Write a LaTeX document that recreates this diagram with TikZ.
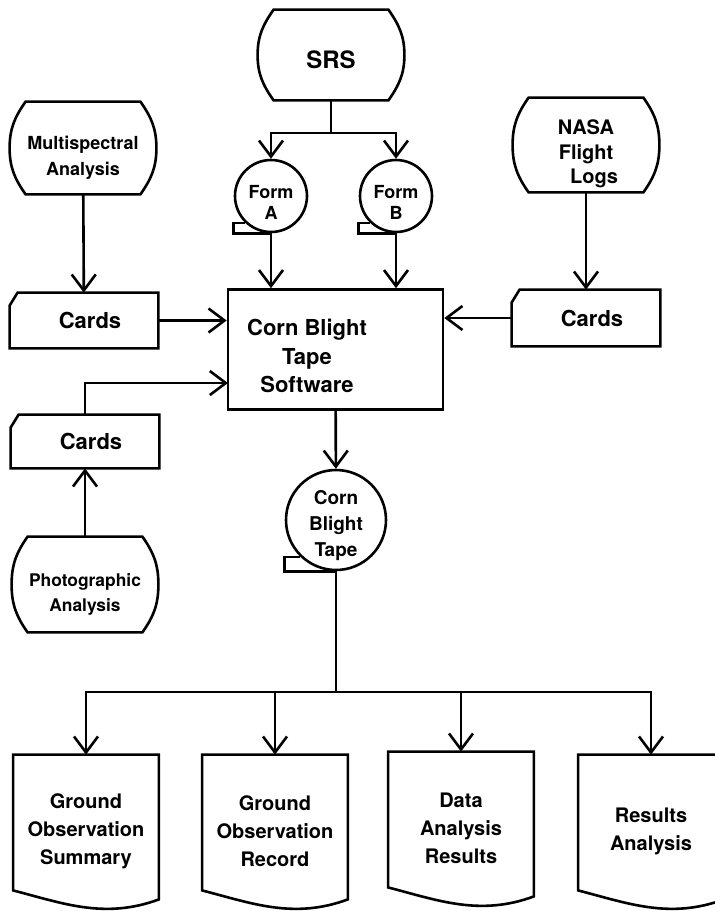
\documentclass[tikz,border=0pt]{standalone}
\usepackage{fontspec}
\setmainfont{TeX Gyre Heros}
\usetikzlibrary{arrows.meta}

\tikzset{
    shapeLine/.style={line width=1.3pt},
    flow/.style={line width=1.3pt, -{Straight Barb[length=8pt,width=12pt]}},
    storeNode/.style={minimum width=73pt, inner sep=0pt, align=center, execute at begin node={\rule{0pt}{#1}}},
    storeNode/.default=0pt,
    cardNode/.style={minimum width=74pt, minimum height=27.5pt, inner sep=0pt, font=\fontsize{11}{13}\selectfont\bfseries, execute at begin node={\hspace*{6pt}}},
    tapeNode/.style={circle, draw, line width=1.3pt, inner sep=0pt, align=center, execute at begin node={\rule{0pt}{#1}}},
    docNode/.style={minimum width=72.5pt, minimum height=76pt, inner sep=0pt, align=center, font=\fontsize{10}{14}\selectfont\bfseries}
}

\begin{document}
\begin{tikzpicture}[x=0.5pt, y=0.5pt]
\useasboundingbox (0,0) rectangle (715,-911);

\node[storeNode=13.5pt, minimum height=45pt, font=\fontsize{12}{14}\selectfont\bfseries] (srs) at (331,-55) {SRS};
\node[storeNode=29pt, minimum height=46pt, font=\fontsize{9}{13}\selectfont\bfseries] (multi) at (83,-148) {Multispectral\\Analysis};
\node[storeNode=41pt, minimum height=47pt, font=\fontsize{10}{12.3}\selectfont\bfseries] (nasa) at (586,-145) {NASA\\Flight\\\hspace*{8pt}Logs};
\node[storeNode=29pt, minimum height=47.5pt, font=\fontsize{8.7}{12.5}\selectfont\bfseries] (photo) at (85,-584.5) {Photographic\\Analysis};

\node[tapeNode=23pt, minimum size=36pt, font=\fontsize{9}{10.5}\selectfont\bfseries] (formA) at (271,-196) {Form\\A};
\node[tapeNode=23pt, minimum size=36pt, font=\fontsize{9}{10.5}\selectfont\bfseries] (formB) at (396,-196) {Form\\B};
\node[tapeNode=39pt, minimum size=50pt, font=\fontsize{9.5}{13}\selectfont\bfseries] (tape) at (336,-520) {Corn\\Blight\\Tape};

\node[draw, line width=1.3pt, minimum width=107.5pt, minimum height=60pt] (soft) at (335.5,-349.5) {};
\node[align=center, font=\fontsize{11}{14.3}\selectfont\bfseries] (softText) at (307,-356) {Corn Blight\\Tape\\Software};

\node[cardNode] (cardsL) at (84,-320.5) {Cards};
\node[cardNode, minimum height=28pt] (cardsR) at (586,-318) {Cards};
\node[cardNode, minimum height=26.5pt] (cardsP) at (85,-441.5) {Cards};

\node[docNode] (docA) at (86,-831) {Ground\\Observation\\Summary};
\node[docNode] (docB) at (275,-831) {Ground\\Observation\\Record};
\node[docNode] (docC) at (461,-828) {Data\\Analysis\\Results};
\node[docNode] (docD) at (651,-831) {Results\\Analysis};

\coordinate (srsFork) at (331,-133);
\coordinate (softIn) at (228,-383);
\coordinate (docFork) at (336,-692);

\foreach \n in {srs,multi,nasa,photo} {
    \draw[shapeLine] ([xshift=8pt]\n.north west) -- ([xshift=-8pt]\n.north east)
        to[out=-55,in=90] (\n.east) to[out=-90,in=55] ([xshift=-8pt]\n.south east)
        -- ([xshift=8pt]\n.south west) to[out=125,in=-90] (\n.west) to[out=90,in=-125] cycle;
}
\foreach \n in {cardsL,cardsR,cardsP} {
    \draw[shapeLine] ([xshift=4pt]\n.north west) -- (\n.north east) -- (\n.south east)
        -- (\n.south west) -- ([yshift=-6.5pt]\n.north west) -- cycle;
}
\foreach \n in {formA,formB,tape} {
    \draw[shapeLine] (\n.south) -- (\n.south -| \n.west) |- (\n.-134);
}
\foreach \n in {docA,docB,docC,docD} {
    \draw[shapeLine] (\n.north west) -- (\n.north east) -- ([yshift=4pt]\n.south east)
        .. controls +(-27pt,-10pt) and +(25pt,-6.5pt) .. ([yshift=8.5pt]\n.south west) -- cycle;
}

\draw[shapeLine] (srs) -- (srsFork);
\draw[flow] (srsFork) -| (formA);
\draw[flow] (srsFork) -| (formB);
\draw[flow] (formA) -- (formA |- soft.north);
\draw[flow] (formB) -- (formB |- soft.north);
\draw[flow] (multi) -- (cardsL);
\draw[flow] (nasa) -- (cardsR);
\draw[flow] (cardsL) -- (cardsL -| soft.west);
\draw[flow] (cardsR) -- (cardsR -| soft.east);
\draw[flow] (photo) -- (cardsP);
\draw[flow] (cardsP) |- (softIn);
\draw[flow] (soft) -- (tape);
\draw[shapeLine] (tape) -- (docFork);
\foreach \d in {docA,docB,docC,docD} {
    \draw[flow] (docFork) -| (\d);
}

\end{tikzpicture}
\end{document}
